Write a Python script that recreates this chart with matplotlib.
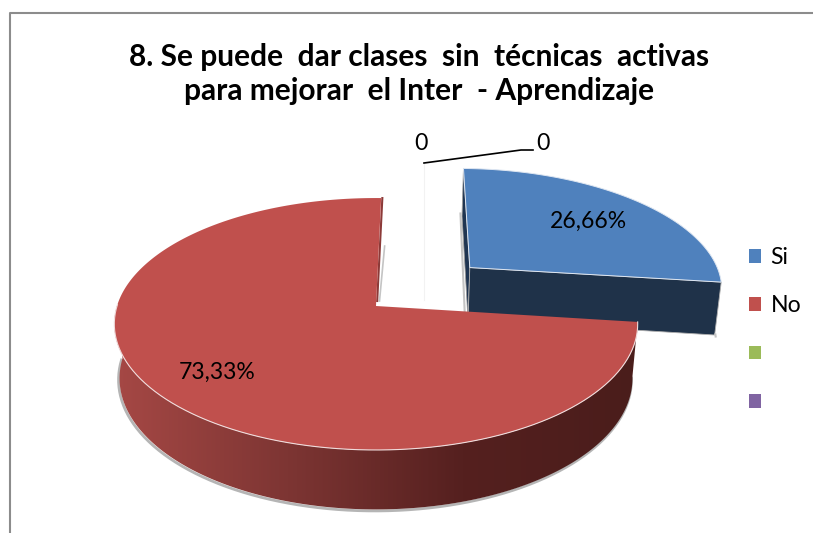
import numpy as np
import matplotlib
matplotlib.use('Agg')
import matplotlib.pyplot as plt
from matplotlib.patches import Patch, Polygon
from matplotlib.colors import LinearSegmentedColormap

categories = ['Si', 'No', ' ', '  ']
values = [26.66, 73.33, 0, 0]
explode = [0.5, 0, 0, 0]
colors = ['#4F81BD', '#C0504D', '#9BBB59', '#8064A2']
pct_labels = ['26,66%', '73,33%']
title = '8. Se puede  dar clases  sin  técnicas  activas\npara mejorar  el Inter  - Aprendizaje'
zero_labels = ['0', '0']

# perspective settings for the fake 3d, all in pixels
cx, cy = 376., 306.
a, b = 259., 123.4
k = 0.143
h, m = 55., 0.02

def project(X, Y, z=0.):
    w = 1 + k*Y + m*z
    return cx + a*X/w, cy - (b*Y - h*z)/w

def arc(w, n=200):
    t = np.radians(np.linspace(w.theta1, w.theta2, n))
    return w.center[0] + w.r*np.cos(t), w.center[1] + w.r*np.sin(t), t

fig = plt.figure(figsize=(8.13, 5.33), dpi=100)
plt.rcParams['font.family'] = ['Lato', 'DejaVu Sans']

# the pie only gives the wedge geometry, it gets projected below
geo = fig.add_axes([0, 0, 0.1, 0.1])
wedges, _ = geo.pie(values, explode=explode, startangle=88.7, counterclock=False, colors=colors)
geo.set_visible(False)

ax = fig.add_axes([0, 0, 1, 1])
ax.axis('off')

# chart border
ax.plot([10, 10, 813], [533, 13, 13], color='#8c8c8c', lw=1.5)

ax.plot([424, 424], [163, 300], color='#f2f2f2', lw=0.8)

# blue slice, theta runs from the right corner (0) to the top corner (-1)
w = wedges[0]
X, Y, t = arc(w)
px, py = project(X, Y)
bx, by = project(X, Y, 1)
ox, oy = w.center
ax0, ay0 = project(ox, oy)
ax1, ay1 = project(ox, oy, 1)
ax.plot([px[-1] - 3, ax1 - 3], [py[-1] + 45, ay1], color='#c4c4c4', lw=1.5)
ax.plot(bx[:3] + 1, by[:3] + 1.5, color='#c4c4c4', lw=1.5)
# left cut, seen edge on
ax.add_patch(Polygon([(ax0, ay0), (px[-1], py[-1]), (bx[-1], by[-1]), (ax1, ay1)], fc='#1F3552', ec='#9a9a9a', lw=0.6))
# front cut
ax.add_patch(Polygon([(ax0, ay0), (px[0], py[0]), (bx[0], by[0]), (ax1, ay1)], fc='#1F3249', ec='#b0b0b0', lw=0.6))
ax.add_patch(Polygon(list(zip(px, py)) + [(ax0, ay0)], fc=w.get_facecolor(), ec='#dfe7f2', lw=0.7))

# red slice, wall first, shaded from left to right
# here theta runs from the top corner (0) to the right corner (-1)
w = wedges[1]
X, Y, t = arc(w, 400)
px, py = project(X, Y)
bx, by = project(X, Y, 1)
ox, oy = w.center
ax0, ay0 = project(ox, oy)
ax1, ay1 = project(ox, oy, 1)

# thin visible part of the upper cut
ax.plot([px[0] + 3.5, ax0 + 3.5], [py[0] + 48, ay0 - 5], color='#c4c4c4', lw=1.2, zorder=1)
ax.plot([px[0] + 1.2, ax0 + 1.2], [py[0], ay0 - 5], color='#8C3A38', lw=1.5, zorder=1)

cmap = LinearSegmentedColormap.from_list('wall', ['#A64845', '#7D3533', '#55201F', '#4A1D1B'])
vis = np.where(np.sin(t) < 0.02)[0]
ax.plot(bx[vis] - 1, by[vis] + 1.5, color='#b5b5b5', lw=2, zorder=1)
wall = Polygon(list(zip(px[vis], py[vis])) + list(zip(bx[vis][::-1], by[vis][::-1])),
               fc='none', ec='none', transform=ax.transData)
ax.add_patch(wall)
grad = np.linspace(0, 1, 256)[None, :]
im = ax.imshow(grad, cmap=cmap, extent=(113, 637, 520, 300), aspect='auto', zorder=2)
im.set_clip_path(wall)
ax.add_patch(Polygon(list(zip(px, py)) + [(ax0, ay0)], fc=w.get_facecolor(), ec='none', zorder=3))
ax.plot(px[vis], py[vis], color='#f0dcdc', lw=0.8, zorder=4)

# labels
ax.text(588, 221, pct_labels[0], ha='center', va='center', fontsize=16.6, color='black', zorder=5)
ax.text(217, 372, pct_labels[1], ha='center', va='center', fontsize=16.6, color='black', zorder=5)
ax.text(421, 143, zero_labels[0], ha='center', va='center', fontsize=16.6, color='black')
ax.text(543, 143, zero_labels[1], ha='center', va='center', fontsize=16.6, color='black')
ax.plot([424, 521, 533], [163, 150, 150], color='black', lw=1.2)

ax.text(419, 74, title, ha='center', va='center', fontsize=21.5, fontweight='bold', color='black', linespacing=1.27)

handles = [Patch(fc=c, ec='none') for c in colors]
ax.legend(handles, categories, loc='center left', bbox_to_anchor=(749/813, 1 - 330/533),
          frameon=False, fontsize=16.6, handlelength=0.54, handleheight=0.54, handletextpad=0.39,
          labelspacing=1.18, borderpad=0, borderaxespad=0)

ax.set_xlim(0, 813)
ax.set_ylim(533, 0)
fig.savefig('out.png', dpi=100)
